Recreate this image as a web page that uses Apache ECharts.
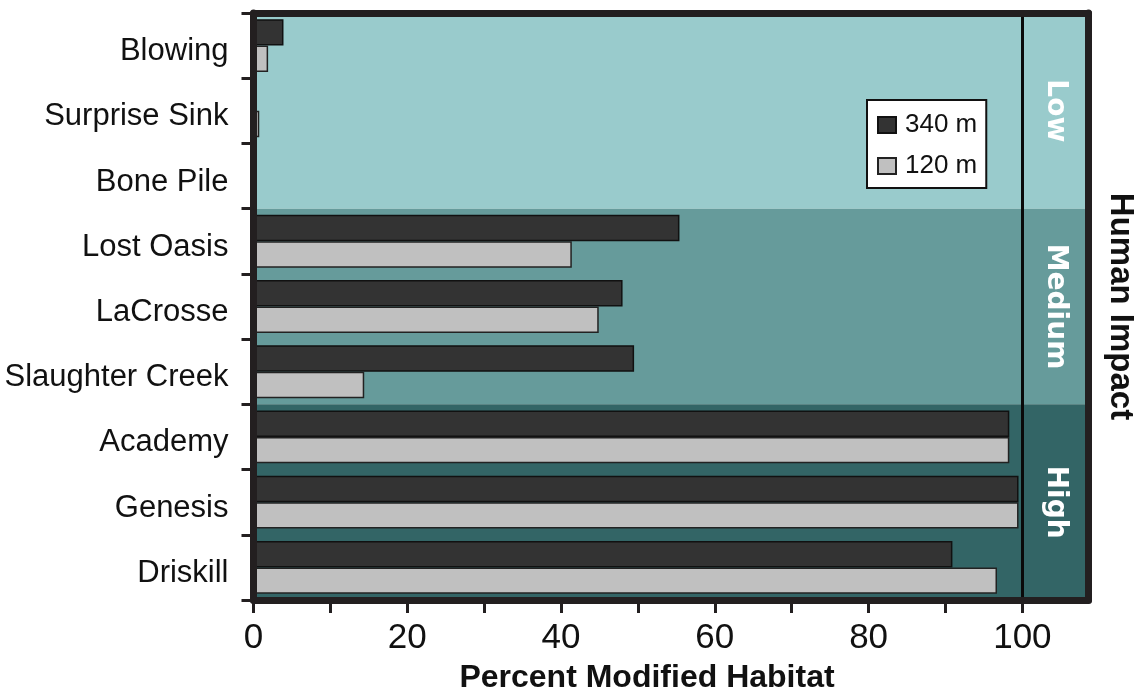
<!DOCTYPE html>
<html>
<head>
<meta charset="utf-8">
<script src="https://cdn.jsdelivr.net/npm/echarts@6/dist/echarts.min.js"></script>
<style>
html,body{margin:0;padding:0;background:#fff;}
#chart{width:1143px;height:694px;}
</style>
</head>
<body>
<div id="chart"></div>
<script>
// ---- data ----
var categories = ['Blowing', 'Surprise Sink', 'Bone Pile', 'Lost Oasis', 'LaCrosse', 'Slaughter Creek', 'Academy', 'Genesis', 'Driskill'];
var values340 = [3.9, 0, 0, 55.4, 48.0, 49.5, 98.3, 99.5, 90.9];
var values120 = [1.9, 0.75, 0, 41.4, 44.9, 14.4, 98.3, 99.5, 96.7];
var seriesNames = ['340 m', '120 m'];
var impactLevels = ['Low', 'Medium', 'High'];
var impactFirst = ['Blowing', 'Lost Oasis', 'Academy'];
var impactLast = ['Bone Pile', 'Slaughter Creek', 'Driskill'];
var xTickValues = [0, 10, 20, 30, 40, 50, 60, 70, 80, 90, 100];
var xLabelValues = [0, 20, 40, 60, 80, 100];
var thresholdValue = 100;
var xMin = 0, xMax = 108.6;

// ---- styles ----
var FONT = 'Liberation Sans, Arial, Helvetica, sans-serif';
var FRAME = '#231f20';
var bandColors = ['#99cbcc', '#99cbcc', '#99cbcc', '#669b9b', '#669b9b', '#669b9b', '#336566', '#336566', '#336566'];

var chart = echarts.init(document.getElementById('chart'), null, {renderer: 'canvas'});

var areaData = impactLevels.map(function (lvl, i) {
  return [
    {name: lvl, xAxis: thresholdValue, yAxis: impactFirst[i]},
    {xAxis: xMax, yAxis: impactLast[i]}
  ];
});

var option = {
  backgroundColor: '#ffffff',
  animation: false,
  textStyle: {fontFamily: FONT},
  grid: {left: 253.5, right: 54.5, top: 13, bottom: 94, containLabel: false, outerBoundsMode: 'none'},
  legend: {
    data: seriesNames,
    orient: 'vertical',
    left: 867, top: 100,
    backgroundColor: '#ffffff',
    borderColor: '#111111', borderWidth: 2, borderRadius: 0,
    padding: [12, 9, 9, 10],
    itemWidth: 18, itemHeight: 16, itemGap: 15,
    icon: 'rect',
    textStyle: {fontSize: 26, color: '#111', fontFamily: FONT, padding: [0, 0, 0, 4]}
  },
  xAxis: [
    {
      type: 'value', position: 'bottom', min: xMin, max: xMax, z: 10,
      axisLine: {show: true, lineStyle: {color: FRAME, width: 7}},
      axisTick: {show: true, customValues: xTickValues, length: 13, lineStyle: {color: FRAME, width: 3}},
      axisLabel: {show: true, customValues: xLabelValues, fontSize: 35, color: '#111', margin: 21, fontFamily: FONT},
      splitLine: {show: false},
      name: 'Percent Modified Habitat', nameLocation: 'middle', nameGap: 62,
      nameTextStyle: {fontSize: 32, fontWeight: 'bold', color: '#111', fontFamily: FONT, padding: [0, 48, 0, 0]}
    },
    {
      type: 'value', position: 'top', min: xMin, max: xMax, z: 10,
      axisLine: {show: true, lineStyle: {color: FRAME, width: 7}},
      axisTick: {show: false}, axisLabel: {show: false}, splitLine: {show: false}
    }
  ],
  yAxis: [
    {
      type: 'category', data: categories, inverse: true, position: 'left', z: 0,
      axisLine: {show: false}, axisTick: {show: false}, axisLabel: {show: false},
      splitLine: {show: false},
      splitArea: {show: true, areaStyle: {color: bandColors, opacity: 1}}
    },
    {
      type: 'category', data: categories, inverse: true, position: 'left', z: 10,
      axisLine: {show: true, lineStyle: {color: FRAME, width: 7}},
      axisTick: {show: true, length: 12, lineStyle: {color: FRAME, width: 3}},
      axisLabel: {show: true, fontSize: 31, color: '#111', margin: 25, fontFamily: FONT, verticalAlign: 'top', lineHeight: 12},
      splitLine: {show: false}, splitArea: {show: false}
    },
    {
      type: 'category', data: categories, inverse: true, position: 'right', z: 10,
      axisLine: {show: true, lineStyle: {color: FRAME, width: 7}},
      axisTick: {show: false}, axisLabel: {show: false},
      splitLine: {show: false}, splitArea: {show: false},
      name: 'Human Impact', nameLocation: 'middle', nameRotate: -90, nameGap: 15,
      nameTextStyle: {fontSize: 33, fontWeight: 'bold', color: '#111', fontFamily: FONT}
    }
  ],
  series: [
    {
      name: seriesNames[0], type: 'bar', xAxisIndex: 0, yAxisIndex: 0,
      data: values340,
      barGap: '0%', barCategoryGap: '19%',
      itemStyle: {color: '#333333', borderColor: '#111111', borderWidth: 1.5},
      markLine: {
        silent: true, symbol: ['none', 'none'],
        label: {show: false},
        lineStyle: {color: '#0a0a0a', width: 3, type: 'solid'},
        data: [{xAxis: thresholdValue}]
      },
      markArea: {
        silent: true,
        itemStyle: {color: 'rgba(0,0,0,0)'},
        label: {show: true, position: 'inside', rotate: -90, color: '#ffffff', fontSize: 28, fontWeight: 'bold', fontFamily: 'DejaVu Sans, sans-serif'},
        data: areaData
      }
    },
    {
      name: seriesNames[1], type: 'bar', xAxisIndex: 0, yAxisIndex: 0,
      data: values120,
      barGap: '0%', barCategoryGap: '19%',
      itemStyle: {color: '#c0c0c0', borderColor: '#222222', borderWidth: 1.5}
    }
  ]
};
chart.setOption(option);
</script>
</body>
</html>
